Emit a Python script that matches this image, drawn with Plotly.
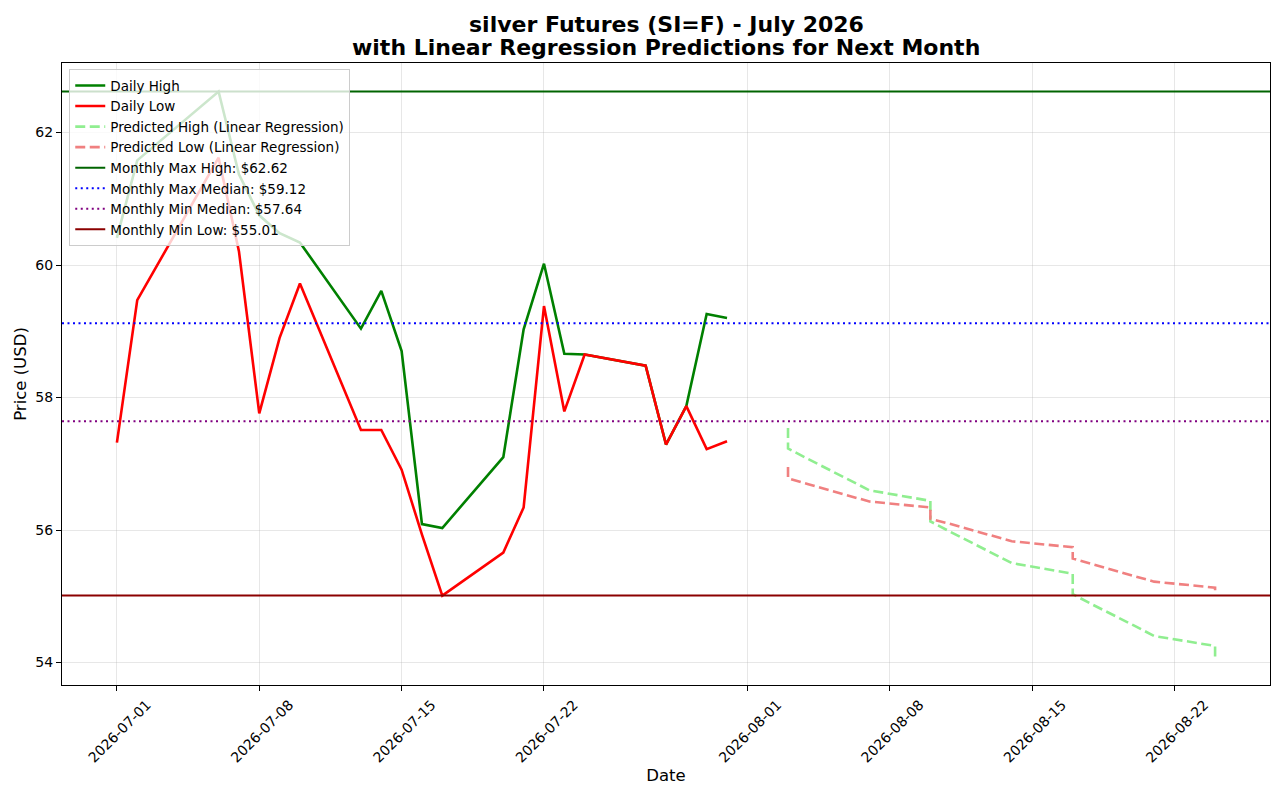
import plotly.graph_objects as go

# daily prices (July 2026)
daily_dates = ["2026-07-01", "2026-07-02", "2026-07-06", "2026-07-07", "2026-07-08",
               "2026-07-09", "2026-07-10", "2026-07-13", "2026-07-14", "2026-07-15",
               "2026-07-16", "2026-07-17", "2026-07-20", "2026-07-21", "2026-07-22",
               "2026-07-23", "2026-07-24", "2026-07-27", "2026-07-28", "2026-07-29",
               "2026-07-30", "2026-07-31"]
daily_high = [60.41, 61.58, 62.62, 61.37, 60.75, 60.48, 60.34, 59.04, 59.61, 58.70,
              56.09, 56.03, 57.10, 59.03, 60.02, 58.66, 58.65, 58.48, 57.29, 57.87,
              59.26, 59.20]
daily_low = [57.32, 59.47, 61.62, 60.21, 57.76, 58.90, 59.72, 57.51, 57.51, 56.91,
             55.93, 55.01, 55.66, 56.34, 59.38, 57.79, 58.65, 58.48, 57.29, 57.87,
             57.22, 57.34]

# predictions (weekend days land on the following Monday)
pred_dates = ["2026-08-03", "2026-08-03", "2026-08-03", "2026-08-04", "2026-08-05",
              "2026-08-06", "2026-08-07", "2026-08-10", "2026-08-10", "2026-08-10",
              "2026-08-11", "2026-08-12", "2026-08-13", "2026-08-14", "2026-08-17",
              "2026-08-17", "2026-08-17", "2026-08-18", "2026-08-19", "2026-08-20",
              "2026-08-21", "2026-08-24", "2026-08-24"]
pred_high = [57.54, 57.38, 57.23, 57.07, 56.91, 56.76, 56.60, 56.44, 56.28, 56.13,
             55.97, 55.81, 55.66, 55.50, 55.34, 55.19, 55.03, 54.87, 54.72, 54.56,
             54.40, 54.25, 54.09]
pred_low = [56.95, 56.86, 56.78, 56.69, 56.60, 56.52, 56.43, 56.34, 56.26, 56.17,
            56.09, 56.00, 55.91, 55.83, 55.74, 55.65, 55.57, 55.48, 55.39, 55.31,
            55.22, 55.13, 55.05]

level_names = ["Monthly Max High", "Monthly Max Median", "Monthly Min Median", "Monthly Min Low"]
level_values = [62.62, 59.12, 57.64, 55.01]
level_colors = ["darkgreen", "blue", "purple", "darkred"]
level_dash = ["solid", "2px,3.5px", "2px,3.5px", "solid"]

x_ticks = ["2026-07-01", "2026-07-08", "2026-07-15", "2026-07-22",
           "2026-08-01", "2026-08-08", "2026-08-15", "2026-08-22"]
y_ticks = [54, 56, 58, 60, 62]

title_lines = ["silver Futures (SI=F) - July 2026",
               "with Linear Regression Predictions for Next Month"]

FONT = "DejaVu Sans"

fig = go.Figure()
fig.add_trace(go.Scatter(x=daily_dates, y=daily_high, mode="lines", name="Daily High",
                         line=dict(color="green", width=2.6), legendrank=1))
fig.add_trace(go.Scatter(x=daily_dates, y=daily_low, mode="lines", name="Daily Low",
                         line=dict(color="red", width=2.6), legendrank=2))
fig.add_trace(go.Scatter(x=pred_dates, y=pred_high, mode="lines",
                         name="Predicted High (Linear Regression)",
                         line=dict(color="lightgreen", width=2.6, dash="10px,4.5px"), legendrank=3))
fig.add_trace(go.Scatter(x=pred_dates, y=pred_low, mode="lines",
                         name="Predicted Low (Linear Regression)",
                         line=dict(color="lightcoral", width=2.6, dash="10px,4.5px"), legendrank=4))

for i, (nm, v, c, d) in enumerate(zip(level_names, level_values, level_colors, level_dash)):
    fig.add_hline(y=v, line=dict(color=c, width=2, dash=d), layer="above",
                  showlegend=True, name=f"{nm}: ${v:.2f}", legendrank=5 + i)

# two-line bold title as annotations (placed above the plot area)
for txt, yy in zip(title_lines, [1.0627, 1.0257]):
    fig.add_annotation(text=f"<b>{txt}</b>", xref="paper", yref="paper", x=0.5, y=yy,
                       xanchor="center", yanchor="middle", showarrow=False,
                       font=dict(family=FONT, size=22, color="black"))

# page body adds an 8px margin, so the figure is 8px smaller and margins shifted
fig.update_layout(
    width=1276, height=792,
    margin=dict(l=52, r=14, t=55, b=115),
    plot_bgcolor="white", paper_bgcolor="white",
    font=dict(family=FONT, size=14, color="black"),
    legend=dict(x=0.006, y=0.99, xanchor="left", yanchor="top",
                bgcolor="rgba(255,255,255,0.8)", bordercolor="#cccccc", borderwidth=1,
                font=dict(family=FONT, size=13.5), tracegroupgap=0),
    showlegend=True,
)
fig.update_xaxes(
    range=["2026-06-28 07:12", "2026-08-26 16:48"],
    tickvals=x_ticks, tickformat="%Y-%m-%d", tickangle=-45, ticklabelshift=30,
    showgrid=True, gridcolor="rgba(176,176,176,0.3)", gridwidth=1,
    showline=True, linecolor="black", linewidth=1.2, mirror=True,
    ticks="outside", ticklen=5, tickcolor="black", zeroline=False,
    title=dict(text="Date", font=dict(size=16.5), standoff=4),
)
fig.update_yaxes(
    range=[53.66, 63.05], tickvals=y_ticks,
    showgrid=True, gridcolor="rgba(176,176,176,0.3)", gridwidth=1,
    showline=True, linecolor="black", linewidth=1.2, mirror=True,
    ticks="outside", ticklen=5, tickcolor="black", zeroline=False,
    title=dict(text="Price (USD)", font=dict(size=16.5), standoff=4),
)

fig.write_html("out.html")
